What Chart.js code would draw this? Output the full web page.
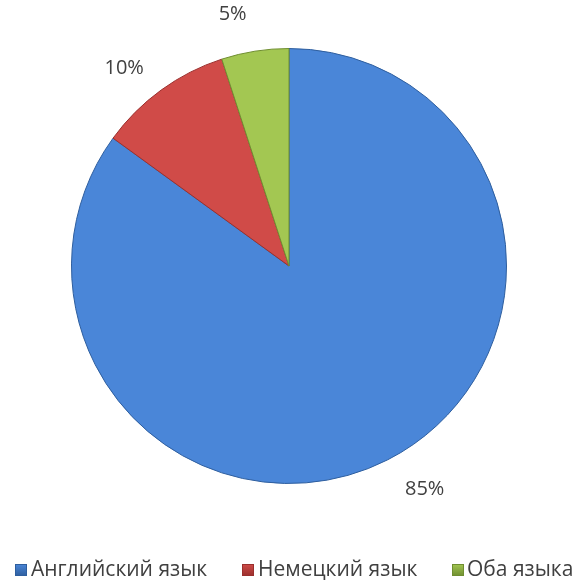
<!DOCTYPE html>
<html><head><meta charset="utf-8">
<script src="https://cdn.jsdelivr.net/npm/chart.js@4/dist/chart.umd.min.js"></script>
<style>html,body{margin:0;padding:0;background:#fff}#w{width:579px;height:581px}</style>
</head><body><div id="w"><canvas id="c" width="579" height="581"></canvas></div>
<script>
const categories = ['Английский язык', 'Немецкий язык', 'Оба языка'];
const values = [85, 10, 5];
const valueLabels = ['85%', '10%', '5%'];
const colors = ['#4A86D8', '#D04B48', '#A3C752'];
const edgeColors = ['#2E5E9E', '#9A2F2D', '#6F8E30'];

const outsideLabels = {
  id: 'outsideLabels',
  afterDatasetsDraw(chart) {
    const ctx = chart.ctx;
    const meta = chart.getDatasetMeta(0);
    ctx.save();
    ctx.font = '20px "Open Sans", sans-serif';
    ctx.fillStyle = '#404040';
    ctx.textAlign = 'center';
    ctx.textBaseline = 'middle';
    meta.data.forEach((arc, i) => {
      const mid = (arc.startAngle + arc.endAngle) / 2 - 4 * Math.PI / 180;
      const r = arc.outerRadius + 42;
      ctx.fillText(valueLabels[i], arc.x + Math.cos(mid) * r + 2, arc.y + Math.sin(mid) * r + 1);
    });
    ctx.restore();
  }
};

// legend drawn below the chart area
const bottomLegend = {
  id: 'bottomLegend',
  afterDraw(chart) {
    const ctx = chart.ctx;
    const startX = [15, 242, 452];
    const textX = [31, 258, 467];
    const cy = 570;
    ctx.save();
    ctx.font = '21px "Open Sans", sans-serif';
    ctx.textBaseline = 'middle';
    ctx.textAlign = 'left';
    categories.forEach((c, i) => {
      const g = ctx.createLinearGradient(0, cy - 6, 0, cy + 6);
      g.addColorStop(0, colors[i]);
      g.addColorStop(1, edgeColors[i]);
      ctx.fillStyle = g;
      ctx.fillRect(startX[i], cy - 6, 12, 12);
      ctx.strokeStyle = edgeColors[i];
      ctx.lineWidth = 1;
      ctx.strokeRect(startX[i] + 0.5, cy - 5.5, 11, 11);
      ctx.fillStyle = '#404040';
      ctx.fillText(c, textX[i], cy);
    });
    ctx.restore();
  }
};

new Chart(document.getElementById('c'), {
  type: 'pie',
  data: {
    labels: categories,
    datasets: [{
      data: values,
      backgroundColor: colors,
      borderColor: edgeColors,
      borderWidth: 1
    }]
  },
  options: {
    responsive: false,
    animation: false,
    layout: { padding: { top: 48, left: 71, right: 72, bottom: 97 } },
    plugins: {
      tooltip: { enabled: false },
      legend: { display: false }
    }
  },
  plugins: [outsideLabels, bottomLegend]
});
</script></body></html>
